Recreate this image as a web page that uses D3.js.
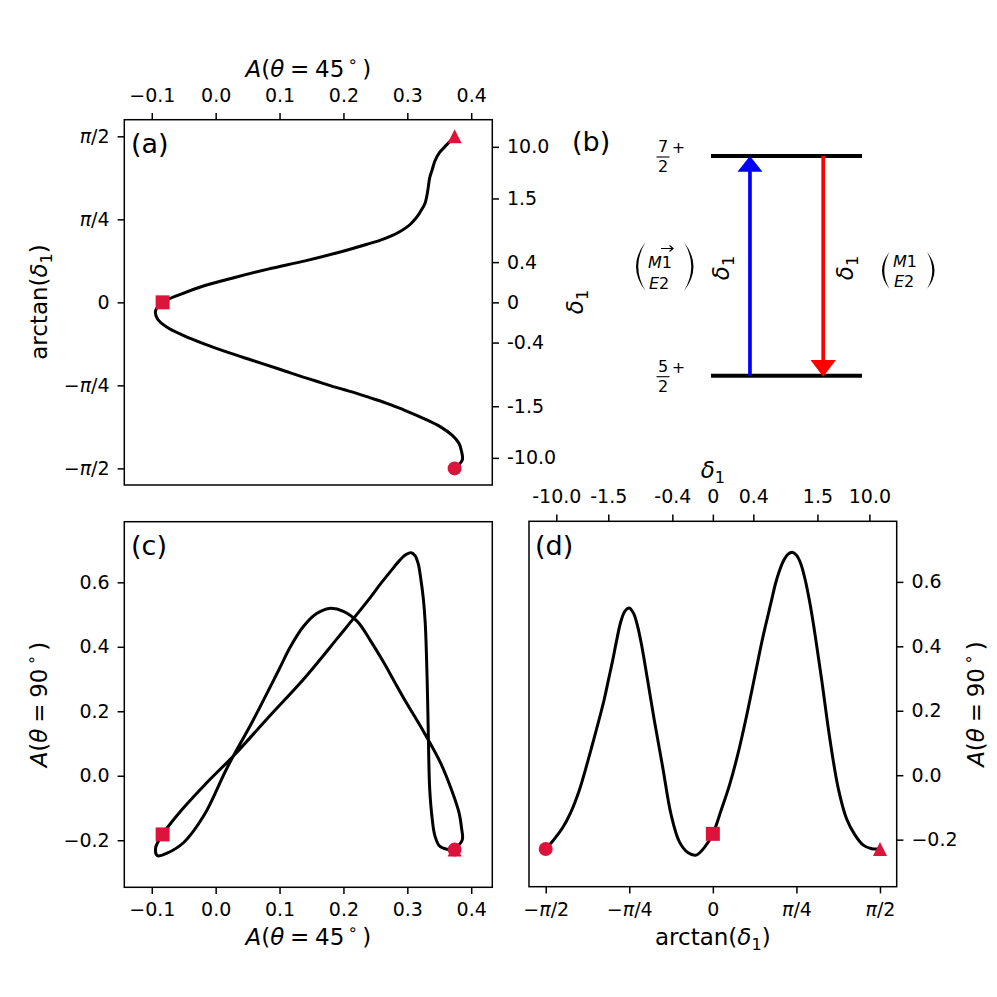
<!DOCTYPE html>
<html>
<head>
<meta charset="utf-8">
<script src="https://cdn.jsdelivr.net/npm/d3@7"></script>
<style>
  body { margin: 0; background: #fff; }
  text { font-family: "DejaVu Sans", sans-serif; fill: #000; }
</style>
</head>
<body>
<div id="chart"></div>
<script>
// arctan(delta_1) sample points, in units of pi/2
const tFrac = [-1, -0.95, -0.9, -0.85, -0.8, -0.75, -0.7, -0.65, -0.625, -0.6, -0.575,
  -0.55, -0.525, -0.5, -0.475, -0.45, -0.425, -0.4, -0.35, -0.3, -0.25, -0.2, -0.15, -0.1, -0.05,
  0,
  0.05, 0.1, 0.15, 0.2, 0.25, 0.3, 0.35, 0.375, 0.4, 0.425, 0.45, 0.475, 0.5, 0.525, 0.55,
  0.575, 0.6, 0.65, 0.7, 0.75, 0.8, 0.85, 0.9, 0.95, 1];
// A(theta = 45 deg) at each sample
const a45 = [0.374, 0.386, 0.385, 0.381, 0.370, 0.352, 0.326, 0.296, 0.279, 0.262, 0.242,
  0.222, 0.200, 0.178, 0.158, 0.137, 0.117, 0.098, 0.058, 0.018, -0.018, -0.050, -0.076, -0.091, -0.094,
  -0.083,
  -0.054, -0.018, 0.030, 0.082, 0.140, 0.192, 0.237, 0.258, 0.275, 0.288, 0.298, 0.306, 0.312, 0.317, 0.321,
  0.325, 0.328, 0.331, 0.333, 0.335, 0.339, 0.343, 0.350, 0.362, 0.374];
// A(theta = 90 deg) at each sample
const a90 = [-0.229, -0.199, -0.164, -0.115, -0.048, 0.040, 0.135, 0.235, 0.295, 0.355, 0.420,
  0.478, 0.510, 0.519, 0.503, 0.462, 0.400, 0.325, 0.170, 0.025, -0.122, -0.207, -0.240, -0.248, -0.224,
  -0.182,
  -0.108, -0.030, 0.066, 0.180, 0.305, 0.430, 0.540, 0.595, 0.637, 0.668, 0.686, 0.692, 0.683, 0.658, 0.612,
  0.550, 0.475, 0.300, 0.113, -0.040, -0.135, -0.185, -0.217, -0.228, -0.229];

const a45Ticks = [-0.1, 0.0, 0.1, 0.2, 0.3, 0.4];
const a90Ticks = [-0.2, 0.0, 0.2, 0.4, 0.6];
const piTicks = [-1, -0.5, 0, 0.5, 1];          // units of pi/2
const piLabels = ["−π/2", "−π/4", "0", "π/4", "π/2"];
const deltaTicks = [-10, -1.5, -0.4, 0, 0.4, 1.5, 10];
const deltaLabels = ["-10.0", "-1.5", "-0.4", "0", "0.4", "1.5", "10.0"];

// level scheme of panel (b)
const levelNum = ["5", "7"];
const levelDen = ["2", "2"];

// marked samples: first (circle), delta = 0 (square), last (triangle)
const markIdx = { circle: 0, square: tFrac.indexOf(0), triangle: tFrac.length - 1 };

const W = 997, H = 997;
const svg = d3.select("#chart").append("svg").attr("width", W).attr("height", H);

const HALF_PI = Math.PI / 2;
const tickFont = 19, labelFont = 23, tagFont = 27;
const red = "crimson";

// fill a text node with plain / italic / sub / sup pieces
function rich(text, parts, size) {
    text.text(null);
    let shift = 0;
    parts.forEach(([s, k]) => {
        const t = text.append("tspan").text(s);
        if (k === "i") t.attr("font-style", "italic");
        let target = 0;
        if (k === "sub") target = size * 0.22;
        if (k === "sup") target = -size * 0.42;
        if (k === "sub" || k === "sup") t.attr("font-size", size * 0.7);
        if (target !== shift) { t.attr("dy", target - shift); shift = target; }
    });
}

const A45 = [["A", "i"], ["(", ""], ["θ", "i"], ["\u2005=\u2005", ""], ["45", ""], ["\u2009∘", "sup"], ["\u2009)", ""]];
const A90 = [["A", "i"], ["(", ""], ["θ", "i"], ["\u2005=\u2005", ""], ["90", ""], ["\u2009∘", "sup"], ["\u2009)", ""]];
const DELTA = [["δ", "i"], ["1", "sub"]];
const ARCTAN = [["arctan(", ""], ["δ", "i"], ["1", "sub"], [")", ""]];

function label(x, y, rot, parts) {
    const t = svg.append("text")
        .attr("transform", `translate(${x},${y}) rotate(${rot})`)
        .attr("text-anchor", "middle")
        .attr("font-size", labelFont);
    rich(t, parts, labelFont);
    return t;
}

function styleAxis(g) {
    g.attr("font-family", "DejaVu Sans").attr("font-size", tickFont);
    g.select(".domain").remove();
    g.selectAll(".tick line").attr("stroke", "#000").attr("stroke-width", 1.5);
    g.selectAll(".tick text").attr("fill", "#000").each(function () {
        const s = this.textContent;
        if (s.includes("π")) {
            const i = s.indexOf("π");
            const parts = [];
            if (i > 0) parts.push([s.slice(0, i), ""]);
            parts.push(["π", "i"]);
            parts.push([s.slice(i + 1), ""]);
            rich(d3.select(this), parts, tickFont);
        }
    });
}

function frame(x0, x1, y0, y1) {
    svg.append("rect").attr("x", x0).attr("y", y0)
        .attr("width", x1 - x0).attr("height", y1 - y0)
        .attr("fill", "none").attr("stroke", "#000").attr("stroke-width", 1.5);
}

function markers(xs, ys) {
    const g = svg.append("g").attr("fill", red);
    const it = markIdx.triangle, is = markIdx.square, ic = markIdx.circle;
    g.append("path")
        .attr("transform", `translate(${xs(it)},${ys(it)})`)
        .attr("d", "M0,-7L7,7L-7,7Z");
    g.append("rect")
        .attr("x", xs(is) - 7).attr("y", ys(is) - 7)
        .attr("width", 14).attr("height", 14);
    g.append("circle")
        .attr("cx", xs(ic)).attr("cy", ys(ic)).attr("r", 7);
}

function curve(xs, ys) {
    const line = d3.line()
        .x((d, i) => xs(i))
        .y((d, i) => ys(i))
        .curve(d3.curveCatmullRom.alpha(0.5));
    svg.append("path")
        .datum(tFrac)
        .attr("d", line)
        .attr("fill", "none")
        .attr("stroke", "#000")
        .attr("stroke-width", 3)
        .attr("stroke-linejoin", "round");
}

function tag(x, y, s) {
    svg.append("text").attr("x", x).attr("y", y).attr("font-size", tagFont).text(s);
}

const fmt1 = d => d3.format(".1f")(d).replace("-", "−");

// ---------- panel (a): A45 (top) vs arctan(delta) ----------
const pa = { l: 124.3, r: 492.3, t: 119.7, b: 485 };
const xA = d3.scaleLinear().domain([-0.143, 0.433]).range([pa.l, pa.r]);
const yA = d3.scaleLinear().domain([-1.1 * HALF_PI, 1.1 * HALF_PI]).range([pa.b, pa.t]);

curve(i => xA(a45[i]), i => yA(tFrac[i] * HALF_PI));
markers(i => xA(a45[i]), i => yA(tFrac[i] * HALF_PI));
frame(pa.l, pa.r, pa.t, pa.b);

svg.append("g").attr("transform", `translate(0,${pa.t})`)
    .call(d3.axisTop(xA).tickValues(a45Ticks).tickFormat(fmt1)
        .tickSize(6.7).tickPadding(11.3))
    .call(styleAxis);
svg.append("g").attr("transform", `translate(${pa.l},0)`)
    .call(d3.axisLeft(yA).tickValues(piTicks.map(f => f * HALF_PI))
        .tickFormat((d, i) => piLabels[i]).tickSize(6.7).tickPadding(8))
    .call(styleAxis);
svg.append("g").attr("transform", `translate(${pa.r},0)`)
    .call(d3.axisRight(yA).tickValues(deltaTicks.map(Math.atan))
        .tickFormat((d, i) => deltaLabels[i]).tickSize(6.7).tickPadding(8))
    .call(styleAxis);

label(308.3, 77, 0, A45);
label(47, 302, -90, ARCTAN);
label(583, 302, -90, DELTA);
tag(131, 153, "(a)");

// ---------- panel (c): A90 vs A45 ----------
const pc = { l: 124.3, r: 492.3, t: 521.7, b: 887.3 };
const xC = d3.scaleLinear().domain([-0.143, 0.433]).range([pc.l, pc.r]);
const yC = d3.scaleLinear().domain([-0.346, 0.788]).range([pc.b, pc.t]);

curve(i => xC(a45[i]), i => yC(a90[i]));
markers(i => xC(a45[i]), i => yC(a90[i]));
frame(pc.l, pc.r, pc.t, pc.b);

svg.append("g").attr("transform", `translate(0,${pc.b})`)
    .call(d3.axisBottom(xC).tickValues(a45Ticks).tickFormat(fmt1)
        .tickSize(6.7).tickPadding(9))
    .call(styleAxis);
svg.append("g").attr("transform", `translate(${pc.l},0)`)
    .call(d3.axisLeft(yC).tickValues(a90Ticks).tickFormat(fmt1)
        .tickSize(6.7).tickPadding(8))
    .call(styleAxis);

label(308.3, 945, 0, A45);
label(47, 704.5, -90, A90);
tag(131, 555, "(c)");

// ---------- panel (d): A90 vs arctan(delta) ----------
const pd = { l: 529, r: 896.7, t: 521.3, b: 886.7 };
const xD = d3.scaleLinear().domain([-1.1 * HALF_PI, 1.1 * HALF_PI]).range([pd.l, pd.r]);
const yD = d3.scaleLinear().domain([-0.346, 0.788]).range([pd.b, pd.t]);

curve(i => xD(tFrac[i] * HALF_PI), i => yD(a90[i]));
markers(i => xD(tFrac[i] * HALF_PI), i => yD(a90[i]));
frame(pd.l, pd.r, pd.t, pd.b);

svg.append("g").attr("transform", `translate(0,${pd.b})`)
    .call(d3.axisBottom(xD).tickValues(piTicks.map(f => f * HALF_PI))
        .tickFormat((d, i) => piLabels[i]).tickSize(6.7).tickPadding(9))
    .call(styleAxis);
svg.append("g").attr("transform", `translate(0,${pd.t})`)
    .call(d3.axisTop(xD).tickValues(deltaTicks.map(Math.atan))
        .tickFormat((d, i) => deltaLabels[i]).tickSize(6.7).tickPadding(11.3))
    .call(styleAxis);
svg.append("g").attr("transform", `translate(${pd.r},0)`)
    .call(d3.axisRight(yD).tickValues(a90Ticks).tickFormat(fmt1)
        .tickSize(6.7).tickPadding(8))
    .call(styleAxis);

label(712.8, 478, 0, DELTA);
label(712.8, 945, 0, ARCTAN);
label(984, 704, -90, A90);
tag(535, 555, "(d)");

// ---------- panel (b): level scheme ----------
const yLevel = d3.scaleLinear().domain([0, 1]).range([375.7, 156]);
const xLevel = d3.scaleLinear().domain([0, 1]).range([711, 862]);
const gb = svg.append("g");

levelNum.forEach((n, i) => {
    const y = yLevel(i);
    gb.append("line").attr("x1", xLevel(0)).attr("x2", xLevel(1))
        .attr("y1", y).attr("y2", y).attr("stroke", "#000").attr("stroke-width", 4);
    gb.append("text").attr("x", 663).attr("y", y - 4).attr("text-anchor", "middle")
        .attr("font-size", 16).text(n);
    gb.append("line").attr("x1", 656.5).attr("x2", 669.5).attr("y1", y + 1).attr("y2", y + 1)
        .attr("stroke", "#000").attr("stroke-width", 1.1);
    gb.append("text").attr("x", 663).attr("y", y + 16).attr("text-anchor", "middle")
        .attr("font-size", 16).text(levelDen[i]);
    gb.append("text").attr("x", 678.5).attr("y", y - 8.5).attr("text-anchor", "middle")
        .attr("dominant-baseline", "central").attr("font-size", 16).text("+");
});

// upward (blue) and downward (red) transitions
const xBlue = xLevel(0.258), xRed = xLevel(0.743);
gb.append("line").attr("x1", xBlue).attr("x2", xBlue)
    .attr("y1", yLevel(0)).attr("y2", yLevel(1) + 15)
    .attr("stroke", "#0000ff").attr("stroke-width", 3.7);
gb.append("path").attr("fill", "#0000ff")
    .attr("d", `M${xBlue},${yLevel(1)}L${xBlue + 12.5},${yLevel(1) + 15.7}L${xBlue - 12.5},${yLevel(1) + 15.7}Z`);
gb.append("line").attr("x1", xRed).attr("x2", xRed)
    .attr("y1", yLevel(1)).attr("y2", yLevel(0) - 15)
    .attr("stroke", "#ff0000").attr("stroke-width", 3.7);
gb.append("path").attr("fill", "#ff0000")
    .attr("d", `M${xRed},${yLevel(0) + 1}L${xRed + 12.7},${yLevel(0) - 15.7}L${xRed - 12.7},${yLevel(0) - 15.7}Z`);

label(729, 268, -90, DELTA);
label(853, 268, -90, DELTA);
tag(572, 151, "(b)");

// multipolarity brackets
function paren(x0, x1, y0, y1, open) {
    const ym = (y0 + y1) / 2;
    const edge = open ? x1 : x0;
    const dir = open ? -1 : 1;
    const w = Math.abs(x1 - x0);
    const outer = edge + dir * 2 * w;
    const inner = edge + dir * (2 * w - 4.5);
    gb.append("path").attr("fill", "#000")
        .attr("d", `M${edge},${y0}Q${outer},${ym} ${edge},${y1}Q${inner},${ym} ${edge},${y0}Z`);
}
// two stacked rows: M1 over E2
function stack(x, y1, y2) {
    const t = gb.append("text").attr("font-size", 16);
    t.append("tspan").attr("x", x).attr("y", y1).attr("font-style", "italic").text("M");
    t.append("tspan").text("1");
    const b = gb.append("text").attr("font-size", 16);
    b.append("tspan").attr("x", x + 1).attr("y", y2).attr("font-style", "italic").text("E");
    b.append("tspan").text("2");
}
// left: M1 (with arrow) over E2
paren(636, 645.5, 242, 291, true);
paren(684, 693.5, 242, 291, false);
stack(648, 268, 288.5);
gb.append("path").attr("fill", "none").attr("stroke", "#000").attr("stroke-width", 1.2)
    .attr("d", "M661,248.5H673M669.5,245.5L673,248.5L669.5,251.5");
// right: M1 over E2
paren(882, 889.5, 252, 289, true);
paren(927, 934.5, 252, 289, false);
stack(893, 267, 286.5);
</script>
</body>
</html>
